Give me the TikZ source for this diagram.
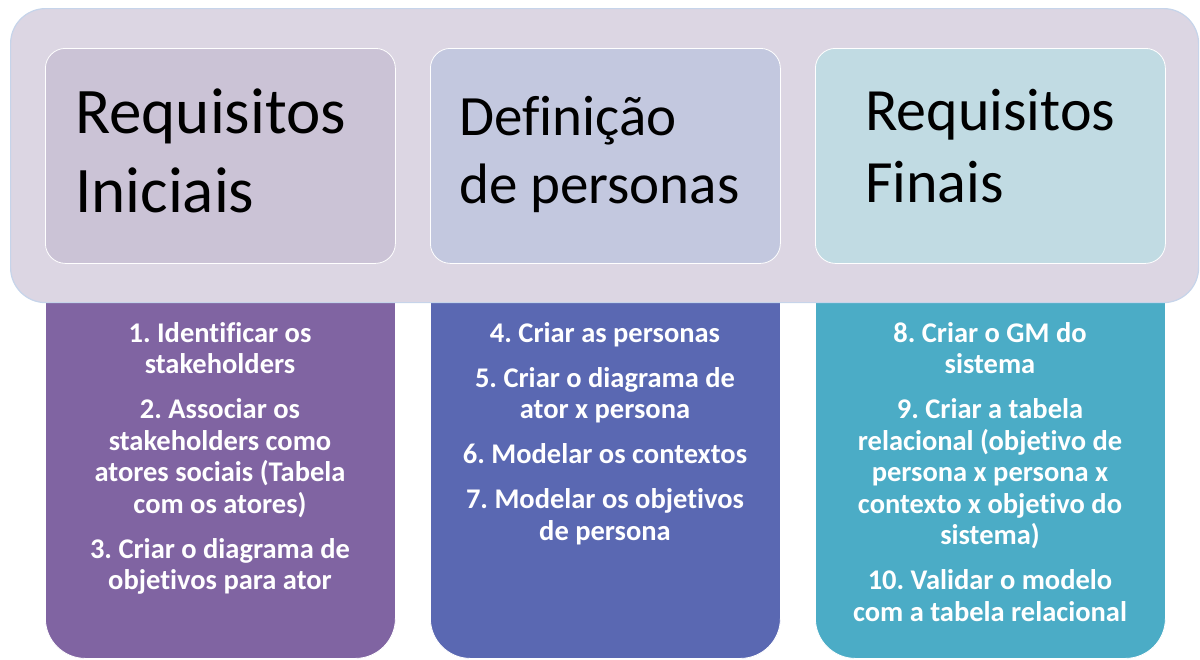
\documentclass[tikz,border=0pt]{standalone}
\usepackage{fontspec}
\setmainfont{Carlito}[Ligatures=NoCommon]
\usepackage{xcolor}
\usepackage{tikz}
\usetikzlibrary{positioning}
\frenchspacing
\definecolor{FrameFill}{RGB}{220,214,227}
\definecolor{FrameLine}{RGB}{198,212,234}
\definecolor{Head1Fill}{RGB}{203,195,214}
\definecolor{Head2Fill}{RGB}{195,200,223}
\definecolor{Head3Fill}{RGB}{193,219,227}
\definecolor{List1Fill}{RGB}{128,100,162}
\definecolor{List2Fill}{RGB}{90,104,178}
\definecolor{List3Fill}{RGB}{75,172,198}

\begin{document}
\begin{tikzpicture}[x=1pt,y=-1pt,
                    head node/.style={rectangle,rounded corners=20pt,draw=white,line width=0.8pt,minimum width=350pt,minimum height=215pt,anchor=north west},
                    head text/.style={anchor=west,align=left,inner sep=0pt},
                    list node/.style={rectangle,rounded corners=40pt,draw=white,line width=0.8pt,minimum width=350pt,minimum height=396pt,anchor=north west},
                    list text/.style={anchor=north,align=center,text=white,inner sep=0pt,font=\bfseries\fontsize{28.5}{31.5}\selectfont}]
\useasboundingbox (0,0) rectangle (1200,659);

 \foreach \x [count=\i] in {45,430,815}
    \node [list node,fill=List\i Fill] (List\i) at (\x,262) {};

\node[rectangle,rounded corners=35pt,fill=FrameFill,draw=FrameLine,line width=1.2pt,minimum width=1188pt,minimum height=294pt,anchor=north west] (Frame) at (10,8) {};

 \foreach \x [count=\i] in {45,430,815}
    \node [head node,fill=Head\i Fill] (Head\i) at (\x,48) {};

\node[head text,font=\fontsize{65}{79}\selectfont] (Head1Text) at ([xshift=30pt,yshift=5pt]Head1.west) {Requisitos\\Iniciais};
\node[head text,font=\fontsize{57}{68}\selectfont] (Head2Text) at ([xshift=29pt,yshift=1pt]Head2.west) {Definição\\de personas};
\node[head text,font=\fontsize{60}{72}\selectfont] (Head3Text) at ([xshift=50pt,yshift=10pt]Head3.west) {Requisitos\\Finais};

\node[list text] (List1Text) at (220,322) {1. Identificar os\\stakeholders\\[13.5pt]
  2. Associar os\\stakeholders como\\atores sociais (Tabela\\com os atores)\\[13.5pt]
  3. Criar o diagrama de\\objetivos para ator};
\node[list text] (List2Text) at (605,322) {4. Criar as personas\\[13.5pt]
  5. Criar o diagrama de\\ator x persona\\[13.5pt]
  6. Modelar os contextos\\[13.5pt]
  7. Modelar os objetivos\\de persona};
\node[list text] (List3Text) at (990,322) {8. Criar o GM do\\sistema\\[13.5pt]
  9. Criar a tabela\\relacional (objetivo de\\persona x persona x\\contexto x objetivo do\\sistema)\\[13.5pt]
  10. Validar o modelo\\com a tabela relacional};

\end{tikzpicture}
\end{document}
